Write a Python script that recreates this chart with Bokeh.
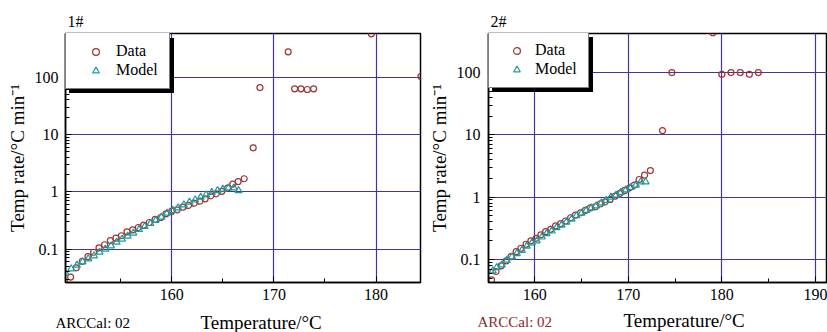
from bokeh.plotting import figure
from bokeh.layouts import row, column
from bokeh.models import (Range1d, FixedTicker, CustomJSTickFormatter, Legend,
                          LegendItem, Label, ColumnDataSource, Title)
from bokeh.embed import file_html
from bokeh.resources import INLINE

# ---------------- data: panel 1# ----------------
p1_data_temp = [149.54, 150.10, 150.65, 151.24, 151.80, 152.35, 152.88, 153.43, 153.99, 154.54,
                155.07, 155.62, 156.18, 156.73, 157.25, 157.81, 158.37, 158.92, 159.44, 160.00,
                160.52, 161.08, 161.63, 162.19, 162.75, 163.27, 163.82, 164.35, 164.90, 165.46,
                165.98, 166.50, 167.09, 167.97, 168.63, 171.40, 172.03, 172.65, 173.27, 173.89,
                179.54, 184.40]
p1_data_rate = [0.0264, 0.0324, 0.047, 0.061, 0.074, 0.088, 0.105, 0.119, 0.141, 0.155,
                0.171, 0.200, 0.217, 0.238, 0.261, 0.291, 0.329, 0.356, 0.413, 0.458,
                0.485, 0.538, 0.577, 0.632, 0.685, 0.755, 0.851, 0.923, 1.02, 1.16,
                1.36, 1.51, 1.69, 5.86, 66.0, 277.0, 62.7, 62.7, 61.0, 62.7,
                572.0, 103.0]
p1_model_temp = [149.61, 150.16, 150.72, 151.27, 151.83, 152.39, 152.94, 153.50, 154.05, 154.61,
                 155.13, 155.69, 156.24, 156.80, 157.35, 157.91, 158.43, 158.99, 159.54, 160.10,
                 160.62, 161.18, 161.73, 162.29, 162.84, 163.37, 163.92, 164.48, 165.00, 165.56,
                 166.08, 166.54]
p1_model_rate = [0.038, 0.0453, 0.0524, 0.060, 0.0677, 0.0764, 0.0883, 0.0996, 0.114, 0.132,
                 0.149, 0.168, 0.190, 0.220, 0.248, 0.280, 0.316, 0.361, 0.424, 0.472,
                 0.526, 0.593, 0.658, 0.725, 0.805, 0.887, 0.973, 1.05, 1.11, 1.17,
                 1.17, 1.05]

# ---------------- data: panel 2# ----------------
p2_data_temp = [155.38, 155.86, 156.41, 156.96, 157.47, 158.02, 158.53, 159.08, 159.59, 160.14,
                160.66, 161.17, 161.71, 162.23, 162.77, 163.29, 163.84, 164.35, 164.90, 165.41,
                165.95, 166.47, 167.02, 167.54, 168.05, 168.59, 169.11, 169.62, 170.16, 170.65,
                171.16, 171.74, 172.36, 173.66, 174.66, 179.04, 180.00, 180.97, 181.97, 182.94,
                183.90]
p2_data_rate = [0.0467, 0.0638, 0.0787, 0.0947, 0.111, 0.133, 0.151, 0.175, 0.198, 0.218,
                0.247, 0.279, 0.304, 0.344, 0.374, 0.413, 0.466, 0.515, 0.561, 0.612,
                0.674, 0.700, 0.782, 0.841, 0.919, 1.04, 1.15, 1.28, 1.41, 1.56,
                1.92, 2.25, 2.67, 11.7, 100.0, 437.0, 94.0, 100.0, 100.0, 94.0,
                100.0]
p2_model_temp = [155.52, 155.93, 156.48, 157.02, 157.58, 158.09, 158.63, 159.15, 159.69, 160.21,
                 160.76, 161.27, 161.82, 162.33, 162.87, 163.39, 163.94, 164.46, 165.00, 165.51,
                 166.06, 166.57, 167.13, 167.64, 168.15, 168.70, 169.21, 169.75, 170.27, 170.82,
                 171.33, 171.85]
p2_model_rate = [0.0655, 0.074, 0.0817, 0.097, 0.110, 0.124, 0.140, 0.163, 0.184, 0.198,
                 0.229, 0.259, 0.286, 0.323, 0.356, 0.398, 0.445, 0.502, 0.555, 0.612,
                 0.674, 0.726, 0.811, 0.885, 1.00, 1.08, 1.19, 1.31, 1.43, 1.56,
                 1.76, 1.76]

y_major_ticks = [0.1, 1, 10, 100]
y_minor_ticks = [m * 10.0 ** k for k in range(-2, 3) for m in range(2, 10)]
p1_x_ticks = [160, 170, 180]
p1_x_minor = [155, 165, 175]
p2_x_ticks = [160, 170, 180, 190]
p2_x_minor = [155, 165, 175, 185]

FONT = "Liberation Serif"
RED = "#a03232"
TEAL = "#1f9a9a"
GRID = "#3f379c"
MAIN_H = 308
STRIP_H = 332 - MAIN_H


def build(name, dt, dr, mt, mr, x0, x1, y0, y1, xt, xm, width, bl, br, bt,
          legend_vy, pad, gw, tick_standoff):
    p = figure(width=width, height=MAIN_H, title=None, toolbar_location=None,
               output_backend="svg", y_axis_type="log",
               x_range=Range1d(x0, x1), y_range=Range1d(y0, y1),
               min_border_left=bl, min_border_right=br,
               min_border_top=bt, min_border_bottom=26)
    p.background_fill_color = "white"
    p.border_fill_color = "white"
    p.outline_line_color = "black"
    p.outline_line_width = 1.5

    p.xaxis.ticker = FixedTicker(ticks=xt, minor_ticks=xm)
    p.yaxis.ticker = FixedTicker(ticks=y_major_ticks, minor_ticks=y_minor_ticks)
    p.yaxis.formatter = CustomJSTickFormatter(code="return String(Number(tick.toPrecision(4)));")
    for ax in (p.xaxis[0], p.yaxis[0]):
        ax.axis_line_color = "black"
        ax.axis_line_width = 1.5
        ax.major_tick_in = 6
        ax.major_tick_out = 0
        ax.minor_tick_in = 4
        ax.minor_tick_out = 0
        ax.major_tick_line_color = "black"
        ax.minor_tick_line_color = "black"
        ax.major_label_text_font = FONT
        ax.major_label_text_font_size = "16px"
        ax.major_label_text_color = "black"
    p.xaxis.major_label_standoff = 6
    p.yaxis.major_label_standoff = tick_standoff
    p.yaxis.axis_label = "Temp rate/°C min⁻¹"
    p.yaxis.axis_label_text_font = FONT
    p.yaxis.axis_label_text_font_size = "19px"
    p.yaxis.axis_label_text_font_style = "normal"
    p.yaxis.axis_label_text_color = "black"
    p.yaxis.axis_label_standoff = 4

    p.xgrid.grid_line_color = GRID
    p.ygrid.grid_line_color = GRID
    p.xgrid.grid_line_width = 1.2
    p.ygrid.grid_line_width = 1.2

    src_d = ColumnDataSource(dict(x=dt, y=dr))
    src_m = ColumnDataSource(dict(x=mt, y=mr))
    r_d = p.scatter("x", "y", source=src_d, marker="circle", size=6,
                    line_color=RED, fill_color=None, line_width=1.2)
    r_m = p.scatter("x", "y", source=src_m, marker="triangle", size=7,
                    line_color=TEAL, fill_color=None, line_width=1.2)

    def mk_legend(loc, bg, labels):
        lg = Legend(items=[LegendItem(label=labels[0], renderers=[r_d]),
                           LegendItem(label=labels[1], renderers=[r_m])],
                    location=loc, orientation="vertical")
        lg.background_fill_color = bg
        lg.background_fill_alpha = 1.0
        lg.border_line_color = "black"
        lg.border_line_width = 1.5
        lg.label_text_font = FONT
        lg.label_text_font_size = "16px"
        lg.label_text_line_height = 1.0
        lg.label_text_color = "black"
        lg.padding = pad
        lg.margin = 0
        lg.spacing = 1
        lg.glyph_width = gw
        lg.glyph_height = 17
        lg.label_height = 17
        lg.label_width = 44
        lg.label_standoff = 0
        return lg

    # drop shadow (no text) then the real legend on top
    p.add_layout(mk_legend((4, legend_vy - 4), "black", ("", "")))
    p.add_layout(mk_legend((0, legend_vy), "white", ("Data", "Model")))

    p.add_layout(Title(text=name, align="left", offset=2, standoff=8,
                       text_font=FONT, text_font_size="16px",
                       text_font_style="normal", text_color="black"), "above")
    return p


def strip(width, items):
    s = figure(width=width, height=STRIP_H, toolbar_location=None, output_backend="svg",
               x_axis_location=None, y_axis_location=None, title=None,
               x_range=Range1d(0, width), y_range=Range1d(0, STRIP_H),
               min_border=0)
    s.outline_line_color = None
    s.background_fill_color = "white"
    s.border_fill_color = "white"
    s.grid.visible = False
    for (txt, x, y, size, color) in items:
        s.add_layout(Label(x=x, y=y, x_units="screen", y_units="screen", text=txt,
                           text_font=FONT, text_font_size=size, text_color=color,
                           text_baseline="alphabetic", text_align="left"))
    return s


p1 = build("1#", p1_data_temp, p1_data_rate, p1_model_temp, p1_model_rate,
           149.6, 184.35, 0.0261, 579.0, p1_x_ticks, p1_x_minor,
           width=425, bl=65, br=5, bt=33, legend_vy=193, pad=9, gw=41, tick_standoff=7)
p2 = build("2#", p2_data_temp, p2_data_rate, p2_model_temp, p2_model_rate,
           155.06, 191.29, 0.0425, 425.0, p2_x_ticks, p2_x_minor,
           width=402, bl=63, br=0, bt=32, legend_vy=194, pad=9, gw=37, tick_standoff=8)

s1 = strip(425, [("ARCCal: 02", 55, 10, "15px", "black"),
                 ("Temperature/°C", 200, 10, "19px", "black")])
s2 = strip(402, [("ARCCal: 02", 52, 11, "15px", "#8b2a2a"),
                 ("Temperature/°C", 198, 12, "19px", "black")])

layout = column(row(p1, p2), row(s1, s2))
open("out.html", "w").write(file_html(layout, INLINE))
